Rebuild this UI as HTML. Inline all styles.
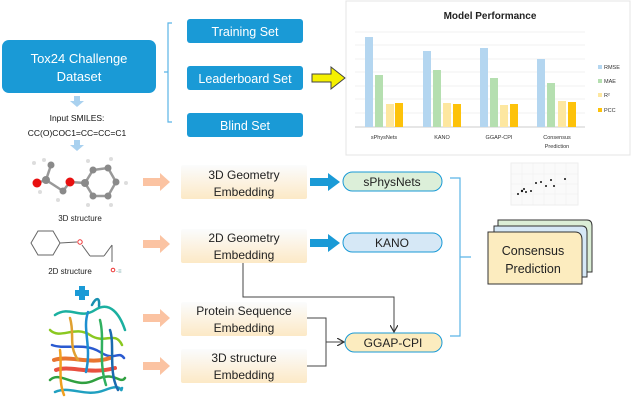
<!DOCTYPE html>
<html><head><meta charset="utf-8"><style>
body{margin:0;background:#fff;}
svg{display:block;font-family:"Liberation Sans",sans-serif;}
</style></head><body>
<svg width="632" height="402" viewBox="0 0 632 402" xmlns="http://www.w3.org/2000/svg">
<defs>
<linearGradient id="emb" x1="0" y1="0" x2="0" y2="1"><stop offset="0" stop-color="#fbfcfd"/><stop offset="1" stop-color="#fce9c6"/></linearGradient>
<marker id="ah" markerWidth="8" markerHeight="8" refX="7" refY="4" orient="auto"><path d="M0,0 L7,4 L0,8" fill="none" stroke="#333" stroke-width="1.2"/></marker>
</defs>
<!-- Tox24 -->
<rect x="2" y="40" width="154" height="53" rx="7" fill="#1a9ad6"/>
<text x="79" y="63" fill="#fff" font-size="13" text-anchor="middle">Tox24 Challenge</text>
<text x="79" y="81" fill="#fff" font-size="13" text-anchor="middle">Dataset</text>
<!-- bracket -->
<path d="M172,23 H168 V122 H172 M168,72 H164" fill="none" stroke="#5bb5e6" stroke-width="1.2"/>
<rect x="187" y="19" width="116" height="24" rx="3" fill="#1a9ad6"/>
<text x="245" y="36" fill="#fff" font-size="12.5" text-anchor="middle">Training Set</text>
<rect x="187" y="66" width="116" height="24" rx="3" fill="#1a9ad6"/>
<text x="245" y="83" fill="#fff" font-size="12.5" text-anchor="middle">Leaderboard Set</text>
<rect x="187" y="113" width="116" height="24" rx="3" fill="#1a9ad6"/>
<text x="245" y="130" fill="#fff" font-size="12.5" text-anchor="middle">Blind Set</text>
<!-- yellow arrow -->
<path d="M312,74 H331 V67 L345,78 L331,89 V82 H312 Z" fill="#f5f000" stroke="#444" stroke-width="1"/>
<!-- chart panel -->
<rect x="346" y="1" width="284" height="154" fill="#fff" stroke="#e4e4e4"/>
<text x="490" y="19" font-size="10" font-weight="bold" text-anchor="middle" fill="#222">Model Performance</text>
<g stroke="#eee" stroke-width="0.7">
<line x1="355" y1="32" x2="585" y2="32"/><line x1="355" y1="45" x2="585" y2="45"/><line x1="355" y1="59" x2="585" y2="59"/><line x1="355" y1="72" x2="585" y2="72"/><line x1="355" y1="86" x2="585" y2="86"/><line x1="355" y1="99" x2="585" y2="99"/><line x1="355" y1="113" x2="585" y2="113"/>
</g>
<line x1="355" y1="127" x2="585" y2="127" stroke="#ccc"/>
<g>
<rect x="365" y="37" width="8" height="90" fill="#b4d6f0"/><rect x="375" y="75" width="8" height="52" fill="#b5dfb0"/><rect x="386" y="104" width="8" height="23" fill="#fde7a0"/><rect x="395" y="103" width="8" height="24" fill="#fdc20a"/>
<rect x="423" y="51" width="8" height="76" fill="#b4d6f0"/><rect x="433" y="70" width="8" height="57" fill="#b5dfb0"/><rect x="443" y="103" width="8" height="24" fill="#fde7a0"/><rect x="453" y="104" width="8" height="23" fill="#fdc20a"/>
<rect x="480" y="48" width="8" height="79" fill="#b4d6f0"/><rect x="490" y="78" width="8" height="49" fill="#b5dfb0"/><rect x="500" y="105" width="8" height="22" fill="#fde7a0"/><rect x="510" y="104" width="8" height="23" fill="#fdc20a"/>
<rect x="537" y="59" width="8" height="68" fill="#b4d6f0"/><rect x="547" y="83" width="8" height="44" fill="#b5dfb0"/><rect x="558" y="101" width="8" height="26" fill="#fde7a0"/><rect x="568" y="102" width="8" height="25" fill="#fdc20a"/>
</g>
<g font-size="5.5" fill="#333" text-anchor="middle">
<text x="384" y="139">sPhysNets</text><text x="442" y="139">KANO</text><text x="499" y="139">GGAP-CPI</text><text x="557" y="139">Consensus</text><text x="557" y="148">Prediction</text>
</g>
<g font-size="5.5" fill="#333">
<rect x="598" y="65" width="4" height="4" fill="#b4d6f0"/><text x="604" y="69">RMSE</text>
<rect x="598" y="79" width="4" height="4" fill="#b5dfb0"/><text x="604" y="83">MAE</text>
<rect x="598" y="93" width="4" height="4" fill="#fde7a0"/><text x="604" y="97">R²</text>
<rect x="598" y="108" width="4" height="4" fill="#fdc20a"/><text x="604" y="112">PCC</text>
</g>
<!-- down arrows -->
<path d="M74,96 H80 V101 H84 L77,107 L70,101 H74 Z" fill="#a9d1ef"/>
<path d="M74,140 H80 V145 H84 L77,151 L70,145 H74 Z" fill="#a9d1ef"/>
<text x="77" y="121" font-size="8.5" text-anchor="middle" fill="#111">Input SMILES:</text>
<text x="77" y="136" font-size="8.5" text-anchor="middle" fill="#111">CC(O)COC1=CC=CC=C1</text>
<!-- 3D molecule -->
<g stroke="#999" stroke-width="2.5">
<line x1="37" y1="183" x2="46" y2="180"/><line x1="46" y1="180" x2="51" y2="165"/><line x1="46" y1="180" x2="63" y2="191"/><line x1="63" y1="191" x2="70" y2="182"/><line x1="70" y1="182" x2="85" y2="183"/>
<polygon points="85,183 93,170 108,168 116,182 108,196 93,196" fill="none"/>
</g>
<g fill="#8a8a8a"><circle cx="46" cy="180" r="4"/><circle cx="51" cy="165" r="3.5"/><circle cx="63" cy="191" r="3.5"/><circle cx="85" cy="183" r="4"/><circle cx="93" cy="170" r="3.5"/><circle cx="108" cy="168" r="3.5"/><circle cx="116" cy="182" r="3.5"/><circle cx="108" cy="196" r="3.5"/><circle cx="93" cy="196" r="3.5"/></g>
<circle cx="37" cy="183" r="4.5" fill="#e81010"/><circle cx="70" cy="182" r="4.5" fill="#e81010"/>
<g fill="#ddd"><circle cx="34" cy="163" r="2"/><circle cx="44" cy="160" r="2"/><circle cx="40" cy="192" r="2"/><circle cx="58" cy="200" r="2"/><circle cx="88" cy="161" r="2"/><circle cx="111" cy="159" r="2"/><circle cx="126" cy="183" r="2"/><circle cx="111" cy="205" r="2"/><circle cx="88" cy="205" r="2"/></g>
<text x="80" y="221" font-size="8" text-anchor="middle" fill="#222">3D structure</text>
<!-- 2D molecule -->
<g fill="none" stroke="#666" stroke-width="1">
<polygon points="31,243 38,231 53,231 60,243 53,255 38,255"/>
<line x1="60" y1="243" x2="77" y2="242"/><line x1="82" y1="245" x2="90" y2="256"/><line x1="90" y1="256" x2="104" y2="256"/><line x1="104" y1="256" x2="112" y2="245"/><line x1="112" y1="245" x2="112" y2="262"/>
</g>
<circle cx="80" cy="242" r="2.2" fill="none" stroke="#e33"/>
<text x="70" y="274" font-size="8" text-anchor="middle" fill="#222">2D structure</text>
<circle cx="113" cy="270" r="1.8" fill="none" stroke="#e33"/><text x="116" y="273" font-size="6" fill="#7aa">-≡</text>
<!-- plus -->
<path d="M79,286 H85 V290 H89 V296 H85 V300 H79 V296 H75 V290 H79 Z" fill="#1a9ad6"/>
<!-- protein -->
<g fill="none" stroke-width="2.5" stroke-linecap="round">
<path d="M55,315 C70,305 80,320 95,310 S120,315 125,330" stroke="#1bb0a0"/>
<path d="M50,330 C60,340 75,325 90,335 S115,330 122,345" stroke="#8ac820"/>
<path d="M52,345 C65,350 85,342 100,352 S118,350 124,358" stroke="#2a5ad0"/>
<path d="M54,360 C70,355 90,365 110,358" stroke="#e87530" stroke-width="4"/>
<path d="M56,370 C70,365 90,375 115,368" stroke="#e85040" stroke-width="4"/>
<path d="M50,380 C60,370 75,390 95,380 S120,385 125,378" stroke="#30a040"/>
<path d="M55,392 C70,385 85,398 105,390 S120,395 122,388" stroke="#20a0c0"/>
<path d="M60,350 C62,365 58,380 64,395" stroke="#f0a020"/>
<path d="M100,320 C105,340 98,360 106,385" stroke="#30b060"/>
<path d="M88,312 C82,330 92,345 86,372" stroke="#1e8fd0"/>
<path d="M70,318 C75,335 68,345 78,360" stroke="#e0a030"/>
<path d="M110,330 C115,345 108,372 118,390" stroke="#1a6ab0"/>
<path d="M92,305 C96,297 100,297 99,306" stroke="#1890b0"/>
</g>
<!-- orange arrows -->
<g fill="#fbc3a2">
<path d="M143,178 H160 V173 L170,182 L160,191 V186 H143 Z"/>
<path d="M143,240 H160 V235 L170,244 L160,253 V248 H143 Z"/>
<path d="M143,314 H160 V309 L170,318 L160,327 V322 H143 Z"/>
<path d="M143,362 H160 V357 L170,366 L160,375 V370 H143 Z"/>
</g>
<!-- embedding boxes -->
<g font-size="12" text-anchor="middle" fill="#222">
<rect x="181" y="165" width="126" height="34" rx="2" fill="url(#emb)"/>
<text x="244" y="179">3D Geometry</text><text x="244" y="196">Embedding</text>
<rect x="181" y="229" width="126" height="34" rx="2" fill="url(#emb)"/>
<text x="244" y="242">2D Geometry</text><text x="244" y="259">Embedding</text>
<rect x="181" y="302" width="126" height="34" rx="2" fill="url(#emb)"/>
<text x="244" y="315">Protein Sequence</text><text x="244" y="332">Embedding</text>
<rect x="181" y="349" width="126" height="34" rx="2" fill="url(#emb)"/>
<text x="244" y="362">3D structure</text><text x="244" y="379">Embedding</text>
</g>
<!-- blue arrows -->
<path d="M310,178 H328 V173 L340,182 L328,191 V186 H310 Z" fill="#1a9ad6"/>
<path d="M310,239 H328 V234 L340,243 L328,252 V247 H310 Z" fill="#1a9ad6"/>
<!-- pills -->
<g font-size="12" text-anchor="middle" fill="#222" stroke-width="1">
<rect x="343" y="172" width="99" height="19" rx="9.5" fill="#dcefd9" stroke="#1a9ad6"/><text x="392" y="186">sPhysNets</text>
<rect x="343" y="233" width="99" height="19" rx="9.5" fill="#d6e8f6" stroke="#1a9ad6"/><text x="392" y="247">KANO</text>
<rect x="345" y="333" width="97" height="19" rx="9.5" fill="#fcecbf" stroke="#1a9ad6"/><text x="393" y="347">GGAP-CPI</text>
</g>
<!-- connectors -->
<g fill="none" stroke="#444" stroke-width="1">
<path d="M243,263 V297 H394 V332" marker-end="url(#ah)"/>
<path d="M307,318 H326 V366 H307"/>
<path d="M326,342 H344" marker-end="url(#ah)"/>
</g>
<!-- right bracket -->
<path d="M450,178 H460 V336 H450 M460,257 H471" fill="none" stroke="#5bb5e6" stroke-width="1.2"/>
<!-- scatter -->
<rect x="511" y="163" width="67" height="42" fill="#fafafa" stroke="#eee"/>
<g stroke="#eee" stroke-width="0.5"><line x1="522" y1="163" x2="522" y2="205"/><line x1="533" y1="163" x2="533" y2="205"/><line x1="544" y1="163" x2="544" y2="205"/><line x1="555" y1="163" x2="555" y2="205"/><line x1="566" y1="163" x2="566" y2="205"/><line x1="511" y1="174" x2="578" y2="174"/><line x1="511" y1="184" x2="578" y2="184"/><line x1="511" y1="194" x2="578" y2="194"/></g>
<g fill="#111"><circle cx="518" cy="194" r="1"/><circle cx="522" cy="191" r="1.2"/><circle cx="524" cy="189" r="1"/><circle cx="526" cy="192" r="1"/><circle cx="531" cy="191" r="1"/><circle cx="536" cy="183" r="1"/><circle cx="541" cy="182" r="1"/><circle cx="546" cy="186" r="1"/><circle cx="551" cy="180" r="1"/><circle cx="554" cy="186" r="1"/><circle cx="565" cy="179" r="1"/></g>
<!-- consensus stack -->
<path d="M498,220 H587 Q592,220 592,226 V272 H498 Z" fill="#dbeed6" stroke="#333"/>
<path d="M494,226 H582 Q587,226 587,232 V277 H494 Z" fill="#d6e8f6" stroke="#333"/>
<path d="M488,232 H575 Q582,232 582,240 V284 H488 Z" fill="#fcecbf" stroke="#333"/>
<text x="533" y="255" font-size="12.5" text-anchor="middle" fill="#222">Consensus</text>
<text x="533" y="273" font-size="12.5" text-anchor="middle" fill="#222">Prediction</text>
</svg>
</body></html>
